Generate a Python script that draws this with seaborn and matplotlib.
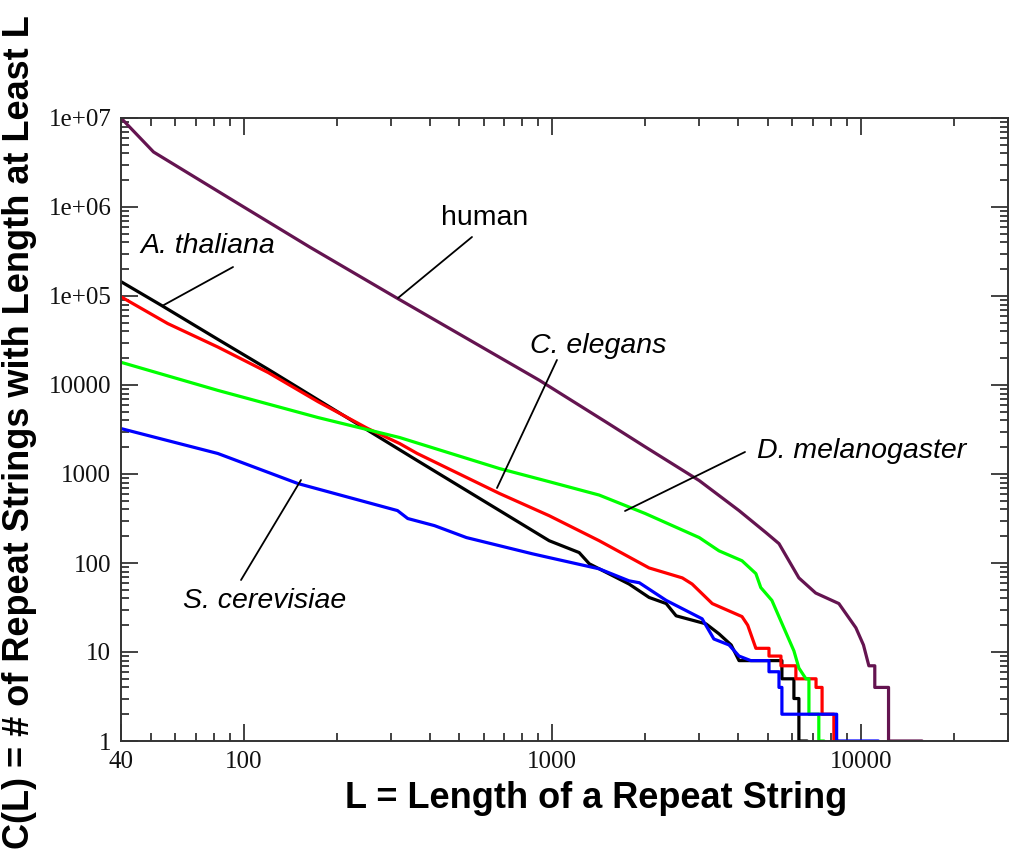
import numpy as np
import pandas as pd
import matplotlib
matplotlib.use("Agg")
import matplotlib.pyplot as plt
from matplotlib.ticker import LogLocator, NullFormatter
import seaborn as sns

# ---- data ----
human_L = [40, 51, 100, 164, 310, 908, 1500, 2000, 2995, 4030, 4930, 5430, 6300, 7140, 8490,
           9640, 10200, 10620, 11100, 11100, 12300, 12300, 15800]
human_C = [1e7, 4.15e6, 1.0e6, 3.53e5, 9.7e4, 1.13e4, 3800, 2020, 843, 388, 219, 165, 68, 46, 35,
           18.7, 12, 7, 7, 4, 4, 1, 1]

thal_L = [40, 53.9, 82.4, 120, 365, 675, 977, 1222, 1318, 1774, 2060, 2340, 2520, 3150, 3470,
          3800, 4030, 5550, 5550, 6070, 6070, 6300, 6300, 6700]
thal_C = [1.45e5, 7.9e4, 3.26e4, 1.5e4, 1416, 388, 178, 131, 98, 58, 41, 35, 25.5, 20.7, 16,
          12, 8, 8, 5, 5, 3, 3, 1, 1]

eleg_L = [40, 56.7, 82.4, 120, 174, 252, 320, 365, 675, 977, 1419, 2060, 2640, 2840, 3300, 4120,
          4300, 4570, 5040, 5040, 5510, 5510, 6160, 6160, 7160, 7160, 7490, 7490, 8180, 8180, 8400]
eleg_C = [9.8e4, 4.9e4, 2.67e4, 1.38e4, 6500, 3250, 2200, 1700, 603, 340, 178, 88, 68, 58, 35, 25,
          20, 11, 11, 9, 9, 7, 7, 5, 5, 4, 4, 2, 2, 1, 1]

mela_L = [40, 82.4, 174, 320, 675, 977, 1419, 2000, 2995, 3470, 4120, 4570, 4740, 5150, 5630,
          6070, 6300, 6640, 6790, 6790, 7310, 7310, 7600]
mela_C = [1.8e4, 8700, 4310, 2570, 1150, 820, 580, 360, 193, 137, 106, 76, 53, 38, 18.7,
          10.3, 6.6, 5, 5, 2, 2, 1, 1]

cere_L = [40, 82.4, 150, 315, 340, 415, 527, 861, 977, 1419, 1774, 1915, 2340, 3060, 3340,
          3740, 4030, 4400, 5040, 5040, 5430, 5430, 5550, 5550, 8350, 8350, 11400]
cere_C = [3240, 1700, 780, 388, 316, 263, 193, 127, 115, 86, 63, 60, 38, 23.6, 14,
          12, 9, 8, 8, 6, 6, 4, 4, 2, 2, 1, 1]

species = ["human", "A. thaliana", "C. elegans", "D. melanogaster", "S. cerevisiae"]
series = [(human_L, human_C), (thal_L, thal_C), (eleg_L, eleg_C), (mela_L, mela_C), (cere_L, cere_C)]
colors = ["#641450", "#000000", "#ff0000", "#00ff00", "#0000ff"]

xticks = [40, 100, 1000, 10000]
xticklabels = ["40", "100", "1000", "10000"]
yticks = [1, 10, 100, 1000, 10000, 1e5, 1e6, 1e7]
yticklabels = ["1", "10", "100", "1000", "10000", "1e+05", "1e+06", "1e+07"]

frames = []
for name, (L, C) in zip(species, series):
    frames.append(pd.DataFrame({"L": L, "C": C, "species": name}))
df = pd.concat(frames, ignore_index=True)

# ---- figure ----
sns.set_style("ticks")
plt.rcParams["font.family"] = ["Liberation Sans", "DejaVu Sans"]
plt.rcParams["text.color"] = "black"

fig = plt.figure(figsize=(10.1, 8.65), dpi=100)
ax = fig.add_axes([121 / 1010, 1 - 741 / 865, 887 / 1010, 623 / 865])

for name, col in zip(species, colors):
    sub = df[df["species"] == name]
    sns.lineplot(data=sub, x="L", y="C", color=col, lw=2.3, estimator=None, sort=False,
                 ax=ax, legend=False)

ax.set_xscale("log")
ax.set_yscale("log")
ax.set_xlim(40, 30000)
ax.set_ylim(1, 1e7)

ax.set_xticks(xticks, labels=xticklabels)
ax.set_yticks(yticks, labels=yticklabels)
ax.xaxis.set_minor_locator(LogLocator(base=10, subs=np.arange(2, 10), numticks=20))
ax.yaxis.set_minor_locator(LogLocator(base=10, subs=np.arange(2, 10), numticks=20))
ax.xaxis.set_minor_formatter(NullFormatter())
ax.yaxis.set_minor_formatter(NullFormatter())

ax.tick_params(which="major", direction="in", length=12, width=1.2, top=True, right=True,
               color="#222222", labelcolor="#111111", pad=7, labelsize=18,
               labelfontfamily="Liberation Serif")
ax.tick_params(which="minor", direction="in", length=6, width=1.2, top=True, right=True,
               color="#222222")
for sp in ax.spines.values():
    sp.set_visible(True)
    sp.set_linewidth(1.4)
    sp.set_color("#333333")

ax.set_xlabel("")
ax.set_ylabel("")
fig.text(596 / 1010, 1 - 798 / 865, "L = Length of a Repeat String", fontsize=26,
         fontweight="bold", ha="center", va="center", color="black")
fig.text(20 / 1010, 0.5, "C(L) = # of Repeat Strings with Length at Least L", fontsize=26,
         fontweight="bold", ha="center", va="center", rotation=90, color="black")

# ---- annotations ----
def leader(p0, p1):
    ax.annotate("", xy=p1, xytext=p0, xycoords="axes fraction", textcoords="axes fraction",
                arrowprops=dict(arrowstyle="-", lw=1.3, color="black", shrinkA=0, shrinkB=0))

tk = dict(transform=ax.transAxes, fontsize=20.5, ha="center", va="center", color="black")
ax.text(0.4104, 0.8395, "human", **tk)
leader((0.3957, 0.8090), (0.3123, 0.7111))
ax.text(0.0981, 0.7945, "A. thaliana", style="italic", **tk)
leader((0.1263, 0.7608), (0.0462, 0.6982))
ax.text(0.5378, 0.6340, "C. elegans", style="italic", **tk)
leader((0.4915, 0.6116), (0.4239, 0.4061))
ax.text(0.8354, 0.4655, "D. melanogaster", style="italic", **tk)
leader((0.7035, 0.4639), (0.5682, 0.3692))
ax.text(0.1623, 0.2247, "S. cerevisiae", style="italic", **tk)
leader((0.2029, 0.4189), (0.1353, 0.2584))

fig.savefig("out.png", dpi=100)
